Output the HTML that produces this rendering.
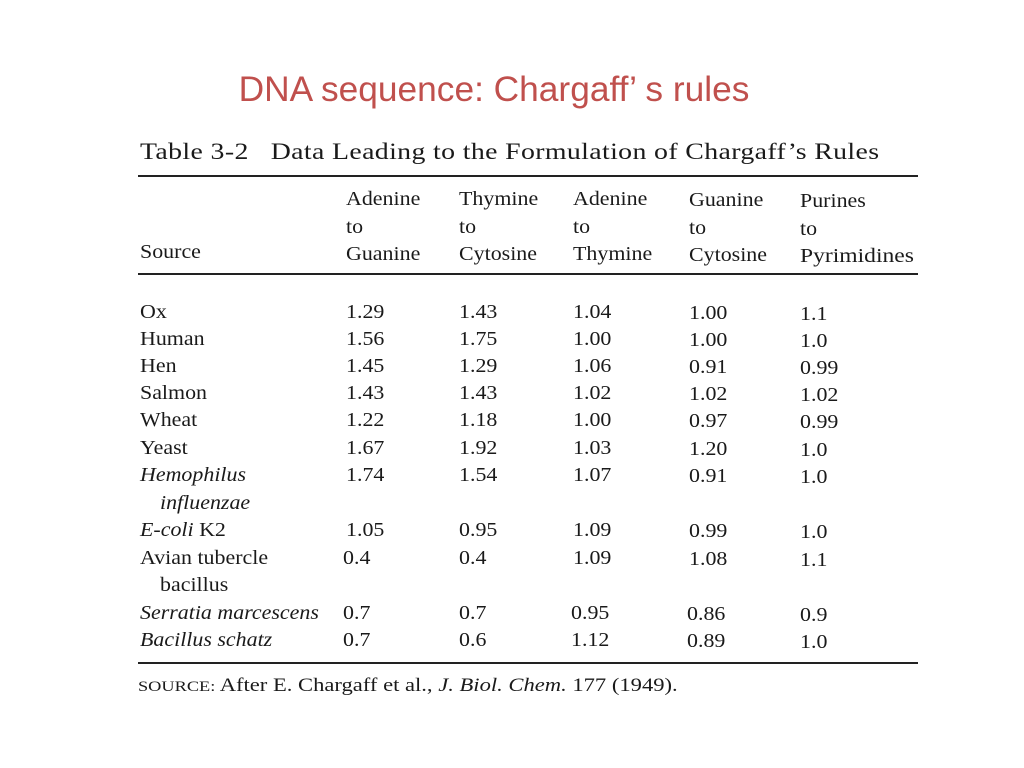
<!DOCTYPE html>
<html><head><meta charset="utf-8"><style>
body{margin:0;width:1024px;height:768px;background:#fff;position:relative;overflow:hidden;font-family:"Liberation Serif",serif;color:#1a1a1a}
.t{position:absolute;font-size:20.5px;line-height:24px;white-space:nowrap;transform:scaleX(1.07);transform-origin:0 50%}
.i{font-style:italic}
.l{position:absolute;left:138px;width:780px;background:#222}
</style></head><body>
<div style="position:absolute;left:0;width:988px;top:70px;text-align:center;font-family:'Liberation Sans',sans-serif;font-size:35.3px;color:#c0504d">DNA sequence: Chargaff’ s rules</div>
<div class="t" style="left:140px;top:140px;font-size:23px;letter-spacing:0.3px;transform:scaleX(1.21)">Table 3-2&nbsp;&nbsp; Data Leading to the Formulation of Chargaff’s Rules</div>
<div class="l" style="top:175px;height:2px"></div>
<div class="l" style="top:273px;height:2px"></div>
<div class="l" style="top:662px;height:2px"></div>
<div class="t" style="left:346px;top:187px">Adenine</div><div class="t" style="left:346px;top:215px">to</div><div class="t" style="left:346px;top:242px">Guanine</div>
<div class="t" style="left:459px;top:187px">Thymine</div><div class="t" style="left:459px;top:215px">to</div><div class="t" style="left:459px;top:242px">Cytosine</div>
<div class="t" style="left:573px;top:187px">Adenine</div><div class="t" style="left:573px;top:215px">to</div><div class="t" style="left:573px;top:242px">Thymine</div>
<div class="t" style="left:689px;top:188px">Guanine</div><div class="t" style="left:689px;top:216px">to</div><div class="t" style="left:689px;top:243px">Cytosine</div>
<div class="t" style="left:800px;top:189px">Purines</div><div class="t" style="left:800px;top:217px">to</div><div class="t" style="left:800px;top:244px;transform:scaleX(1.15)">Pyrimidines</div>
<div class="t" style="left:140px;top:240px">Source</div>

<div class="t" style="left:140px;top:300px">Ox</div><div class="t" style="left:346px;top:300px">1.29</div><div class="t" style="left:459px;top:300px">1.43</div><div class="t" style="left:573px;top:300px">1.04</div><div class="t" style="left:689px;top:301px">1.00</div><div class="t" style="left:800px;top:302px">1.1</div>
<div class="t" style="left:140px;top:327px">Human</div><div class="t" style="left:346px;top:327px">1.56</div><div class="t" style="left:459px;top:327px">1.75</div><div class="t" style="left:573px;top:327px">1.00</div><div class="t" style="left:689px;top:328px">1.00</div><div class="t" style="left:800px;top:329px">1.0</div>
<div class="t" style="left:140px;top:354px">Hen</div><div class="t" style="left:346px;top:354px">1.45</div><div class="t" style="left:459px;top:354px">1.29</div><div class="t" style="left:573px;top:354px">1.06</div><div class="t" style="left:689px;top:355px">0.91</div><div class="t" style="left:800px;top:356px">0.99</div>
<div class="t" style="left:140px;top:381px">Salmon</div><div class="t" style="left:346px;top:381px">1.43</div><div class="t" style="left:459px;top:381px">1.43</div><div class="t" style="left:573px;top:381px">1.02</div><div class="t" style="left:689px;top:382px">1.02</div><div class="t" style="left:800px;top:383px">1.02</div>
<div class="t" style="left:140px;top:408px">Wheat</div><div class="t" style="left:346px;top:408px">1.22</div><div class="t" style="left:459px;top:408px">1.18</div><div class="t" style="left:573px;top:408px">1.00</div><div class="t" style="left:689px;top:409px">0.97</div><div class="t" style="left:800px;top:410px">0.99</div>
<div class="t" style="left:140px;top:436px">Yeast</div><div class="t" style="left:346px;top:436px">1.67</div><div class="t" style="left:459px;top:436px">1.92</div><div class="t" style="left:573px;top:436px">1.03</div><div class="t" style="left:689px;top:437px">1.20</div><div class="t" style="left:800px;top:438px">1.0</div>
<div class="t i" style="left:140px;top:463px">Hemophilus</div><div class="t i" style="left:160px;top:491px">influenzae</div><div class="t" style="left:346px;top:463px">1.74</div><div class="t" style="left:459px;top:463px">1.54</div><div class="t" style="left:573px;top:463px">1.07</div><div class="t" style="left:689px;top:464px">0.91</div><div class="t" style="left:800px;top:465px">1.0</div>
<div class="t" style="left:140px;top:518px"><span class="i">E-coli</span> K2</div><div class="t" style="left:346px;top:518px">1.05</div><div class="t" style="left:459px;top:518px">0.95</div><div class="t" style="left:573px;top:518px">1.09</div><div class="t" style="left:689px;top:519px">0.99</div><div class="t" style="left:800px;top:520px">1.0</div>
<div class="t" style="left:140px;top:546px">Avian tubercle</div><div class="t" style="left:160px;top:573px">bacillus</div><div class="t" style="left:343px;top:546px">0.4</div><div class="t" style="left:459px;top:546px">0.4</div><div class="t" style="left:573px;top:546px">1.09</div><div class="t" style="left:689px;top:547px">1.08</div><div class="t" style="left:800px;top:548px">1.1</div>
<div class="t i" style="left:140px;top:601px">Serratia marcescens</div><div class="t" style="left:343px;top:601px">0.7</div><div class="t" style="left:459px;top:601px">0.7</div><div class="t" style="left:571px;top:601px">0.95</div><div class="t" style="left:687px;top:602px">0.86</div><div class="t" style="left:800px;top:603px">0.9</div>
<div class="t i" style="left:140px;top:628px">Bacillus schatz</div><div class="t" style="left:343px;top:628px">0.7</div><div class="t" style="left:459px;top:628px">0.6</div><div class="t" style="left:571px;top:628px">1.12</div><div class="t" style="left:687px;top:629px">0.89</div><div class="t" style="left:800px;top:630px">1.0</div>

<div class="t" style="left:138px;top:674px;font-size:18.5px;transform:scaleX(1.22)"><span style="font-size:15px">SOURCE:</span> After E. Chargaff et al., <span class="i">J. Biol. Chem.</span> 177 (1949).</div>
</body></html>
